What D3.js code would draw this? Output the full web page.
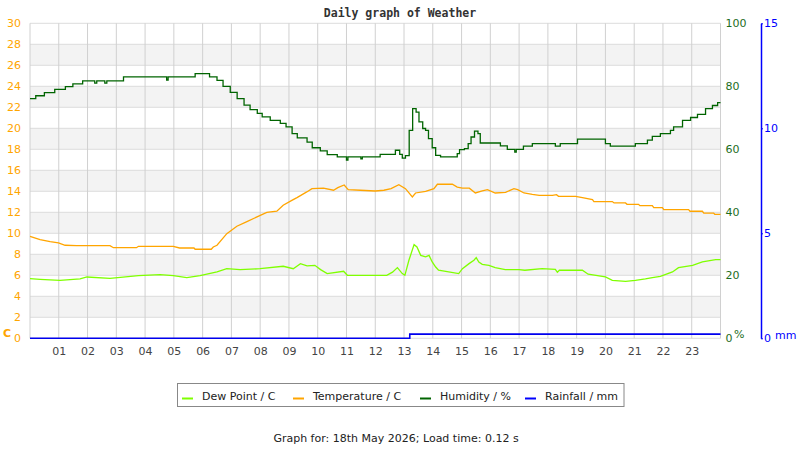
<!DOCTYPE html>
<html>
<head>
<meta charset="utf-8">
<script src="https://cdn.jsdelivr.net/npm/d3@7"></script>
<style>
body { margin: 0; background: #fff; }
text { font-family: "DejaVu Sans", sans-serif; }
</style>
</head>
<body>
<div id="chart"></div>
<script>
// values, [hour, value]
const hourLabels = ['01','02','03','04','05','06','07','08','09','10','11','12',
  '13','14','15','16','17','18','19','20','21','22','23'];
const tempTicks = [0,2,4,6,8,10,12,14,16,18,20,22,24,26,28,30];
const humTicks = [0,20,40,60,80,100];
const rainTicks = [0,5,10,15];

const humidity = [[0,76.1],[0.2,77.0],[0.5,78.0],[0.86,79.0],[1.23,79.9],[1.49,80.8],[1.83,81.7],
  [2.25,81.0],[2.32,81.7],[2.6,81.0],[2.67,81.7],[3.25,83.0],[4.75,82.0],[4.8,83.0],[5.74,84.0],
  [6.24,83.0],[6.5,81.9],[6.71,80.0],[6.96,78.1],[7.2,76.1],[7.44,74.0],[7.65,72.6],[7.9,71.4],
  [8.07,70.3],[8.35,69.2],[8.7,68.2],[8.9,67.1],[9.11,65.0],[9.29,63.6],[9.63,62.3],[9.81,60.5],
  [10.09,59.5],[10.33,58.3],[10.68,57.6],[11.0,56.6],[11.05,57.6],[11.5,57.0],[11.55,57.6],
  [12.17,58.4],[12.7,59.7],[12.85,58.4],[12.94,57.2],[13.05,58.0],[13.18,66.0],[13.3,72.9],
  [13.42,71.8],[13.52,68.7],[13.65,66.6],[13.75,66.0],[13.85,63.4],[13.98,60.5],[14.1,58.1],
  [14.27,57.6],[14.85,58.6],[14.93,59.9],[15.1,60.2],[15.23,61.8],[15.33,63.9],[15.45,65.8],
  [15.57,65.0],[15.65,62.0],[16.35,61.1],[16.59,60.0],[16.85,59.1],[16.9,60.0],[17.15,61.0],
  [17.46,61.8],[18.26,61.0],[18.43,61.8],[19.03,63.2],[20.0,61.8],[20.17,61.0],[21.04,61.8],
  [21.46,62.9],[21.63,64.1],[21.91,65.0],[22.26,66.0],[22.37,67.1],[22.68,69.2],[22.96,70.1],
  [23.2,71.1],[23.48,72.9],[23.72,73.9],[23.9,74.8],[24,74.8]];

const temperature = [[0,9.71],[0.35,9.4],[0.7,9.2],[0.99,9.08],[1.22,8.86],[1.62,8.83],[2.78,8.83],
  [2.9,8.63],[3.7,8.63],[3.77,8.76],[4.98,8.76],[5.2,8.6],[5.7,8.6],[5.74,8.48],[6.3,8.48],
  [6.37,8.7],[6.5,8.86],[6.84,9.97],[7.19,10.67],[7.54,11.11],[7.89,11.56],[8.23,12.0],
  [8.58,12.1],[8.8,12.67],[9.1,13.14],[9.28,13.4],[9.62,13.94],[9.8,14.25],[10.2,14.3],
  [10.55,14.1],[10.7,14.35],[10.92,14.6],[11.06,14.16],[11.48,14.1],[12.0,14.03],[12.3,14.1],
  [12.55,14.25],[12.82,14.63],[13.05,14.25],[13.29,13.46],[13.4,13.84],[13.75,14.0],
  [14.04,14.25],[14.16,14.67],[14.68,14.67],[14.85,14.4],[15.03,14.3],[15.27,14.3],
  [15.48,13.84],[15.72,14.03],[15.9,14.16],[16.17,13.84],[16.53,13.9],[16.82,14.25],
  [16.95,14.16],[17.17,13.84],[17.46,13.71],[17.7,13.62],[18.16,13.62],[18.3,13.68],
  [18.37,13.52],[18.96,13.52],[19.2,13.4],[19.55,13.2],[19.6,13.02],[20.24,13.02],[20.3,12.89],
  [20.7,12.89],[20.75,12.76],[21.15,12.76],[21.2,12.63],[21.63,12.63],[21.68,12.44],
  [21.98,12.44],[22.03,12.25],[22.89,12.25],[22.94,12.1],[23.37,12.1],[23.42,11.93],
  [23.76,11.93],[23.8,11.81],[24,11.81]];

const dewPoint = [[0,5.68],[0.35,5.62],[1.04,5.52],[1.74,5.65],[1.98,5.84],[2.78,5.71],[3.77,5.97],
  [4.52,6.06],[4.98,5.97],[5.45,5.78],[5.91,5.97],[6.5,6.32],[6.84,6.63],[7.3,6.54],[8.0,6.63],
  [8.8,6.86],[9.15,6.63],[9.4,7.11],[9.63,6.9],[9.9,6.95],[10.1,6.54],[10.33,6.16],[10.9,6.38],
  [11.03,6.0],[12.4,6.0],[12.6,6.3],[12.77,6.73],[12.94,6.16],[13.03,6.0],[13.17,7.43],
  [13.35,8.92],[13.45,8.7],[13.58,7.9],[13.75,7.75],[13.87,7.9],[13.98,7.27],[14.1,6.79],
  [14.2,6.48],[14.9,6.16],[15.03,6.63],[15.26,7.11],[15.43,7.43],[15.51,7.68],[15.6,7.27],
  [15.72,7.05],[15.95,6.95],[16.17,6.73],[16.52,6.54],[17.0,6.54],[17.2,6.48],[17.8,6.63],
  [18.26,6.57],[18.33,6.29],[18.4,6.48],[19.2,6.48],[19.4,6.1],[20.0,5.84],[20.24,5.52],
  [20.7,5.43],[21.04,5.52],[21.39,5.65],[21.63,5.78],[21.91,5.9],[22.33,6.32],[22.54,6.73],
  [23.03,6.95],[23.37,7.27],[23.83,7.49],[24,7.49]];

const rainfall = [[0,0],[13.2,0.2],[24,0.2]];

const legendItems = [
  {name: 'Dew Point / C', color: '#7fff00'},
  {name: 'Temperature / C', color: '#ffa500'},
  {name: 'Humidity / %', color: '#006400'},
  {name: 'Rainfall / mm', color: '#0000ff'}
];

const width = 800, height = 450;
const plotL = 30, plotR = 720.5, plotT = 23.3, plotB = 338.3;

const svg = d3.select('#chart').append('svg')
  .attr('width', width).attr('height', height);

const x = d3.scaleLinear().domain([0, 24]).range([plotL, plotR]);
const yT = d3.scaleLinear().domain([0, 30]).range([plotB, plotT]);
const yH = d3.scaleLinear().domain([0, 100]).range([plotB, plotT]);
const yR = d3.scaleLinear().domain([0, 15]).range([plotB, plotT]);

// grey bands
svg.append('g').selectAll('rect')
  .data(tempTicks.filter(d => d % 4 === 2 && d < 30))
  .enter().append('rect')
  .attr('x', plotL).attr('width', plotR - plotL)
  .attr('y', d => yT(d + 2)).attr('height', d => yT(d) - yT(d + 2))
  .attr('fill', '#f3f3f3');

// grid
svg.append('g').selectAll('line').data(tempTicks).enter().append('line')
  .attr('x1', plotL).attr('x2', plotR)
  .attr('y1', d => yT(d)).attr('y2', d => yT(d))
  .attr('stroke', '#dcdcdc');
svg.append('g').selectAll('line').data(d3.range(0, 25)).enter().append('line')
  .attr('x1', d => x(d)).attr('x2', d => x(d))
  .attr('y1', plotT).attr('y2', plotB)
  .attr('stroke', '#d0d0d0');

// axes
const axL = svg.append('g').attr('transform', `translate(${plotL},0)`)
  .call(d3.axisLeft(yT).tickValues(tempTicks).tickSize(0).tickPadding(9));
axL.select('.domain').remove();
axL.selectAll('text').attr('fill', '#ffa500').style('font-size', '11px');

const axH = svg.append('g').attr('transform', `translate(${plotR},0)`)
  .call(d3.axisRight(yH).tickValues(humTicks).tickSize(0).tickPadding(5));
axH.select('.domain').remove();
axH.selectAll('text').attr('fill', '#1d6e1d').style('font-size', '11px');

const axR = svg.append('g').attr('transform', 'translate(761,0)')
  .call(d3.axisRight(yR).tickValues(rainTicks).tickSize(2).tickSizeOuter(0).tickPadding(1));
axR.select('.domain').attr('stroke', '#0000ff').attr('stroke-width', 1.5);
axR.selectAll('.tick line').attr('stroke', '#0000ff');
axR.selectAll('text').attr('fill', '#0000ff').style('font-size', '11px');

const axB = svg.append('g').attr('transform', `translate(0,${plotB})`)
  .call(d3.axisBottom(x).tickValues(d3.range(1, 24))
    .tickFormat((d, i) => hourLabels[i]).tickSize(0).tickPadding(9));
axB.select('.domain').remove();
axB.selectAll('text').attr('fill', '#444').style('font-size', '11px');

// unit labels
svg.append('text').attr('x', 3).attr('y', 337).text('C')
  .attr('fill', '#ffa500').style('font-size', '11px').style('font-weight', 'bold');
svg.append('text').attr('x', 734).attr('y', 338).text('%')
  .attr('fill', '#1d6e1d').style('font-size', '11px');
svg.append('text').attr('x', 775).attr('y', 339).text('mm')
  .attr('fill', '#0000ff').style('font-size', '11px');

// series
const stepLine = yS => d3.line().x(d => x(d[0])).y(d => yS(d[1])).curve(d3.curveStepAfter);
const line = yS => d3.line().x(d => x(d[0])).y(d => yS(d[1]));

svg.append('path').datum(rainfall).attr('d', stepLine(yR))
  .attr('fill', 'none').attr('stroke', '#0000ee').attr('stroke-width', 1.6);
svg.append('path').datum(dewPoint).attr('d', line(yT))
  .attr('fill', 'none').attr('stroke', '#7fff00').attr('stroke-width', 1.3);
svg.append('path').datum(temperature).attr('d', line(yT))
  .attr('fill', 'none').attr('stroke', '#ffa500').attr('stroke-width', 1.3);
svg.append('path').datum(humidity).attr('d', stepLine(yH))
  .attr('fill', 'none').attr('stroke', '#006400').attr('stroke-width', 1.3);

// title
svg.append('text').attr('x', 400).attr('y', 17).attr('text-anchor', 'middle')
  .style('font-family', '"DejaVu Sans Mono", monospace').style('font-size', '11.5px')
  .style('font-weight', 'bold').attr('fill', '#333')
  .text('Daily graph of Weather');

// legend
const lg = svg.append('g');
lg.append('rect').attr('x', 177.5).attr('y', 383.5).attr('width', 446.5).attr('height', 23)
  .attr('fill', '#fff').attr('stroke', '#888');
const legendX = [182, 293, 420, 525];
legendItems.forEach((it, i) => {
  lg.append('line').attr('x1', legendX[i]).attr('x2', legendX[i] + 11)
    .attr('y1', 398.5).attr('y2', 398.5)
    .attr('stroke', it.color).attr('stroke-width', 2);
  lg.append('text').attr('x', legendX[i] + 20).attr('y', 399.5)
    .attr('fill', '#222').style('font-size', '11px').text(it.name);
});

svg.append('text').attr('x', 396).attr('y', 442).attr('text-anchor', 'middle')
  .attr('fill', '#222').style('font-size', '11px')
  .text('Graph for: 18th May 2026; Load time: 0.12 s');
</script>
</body>
</html>
